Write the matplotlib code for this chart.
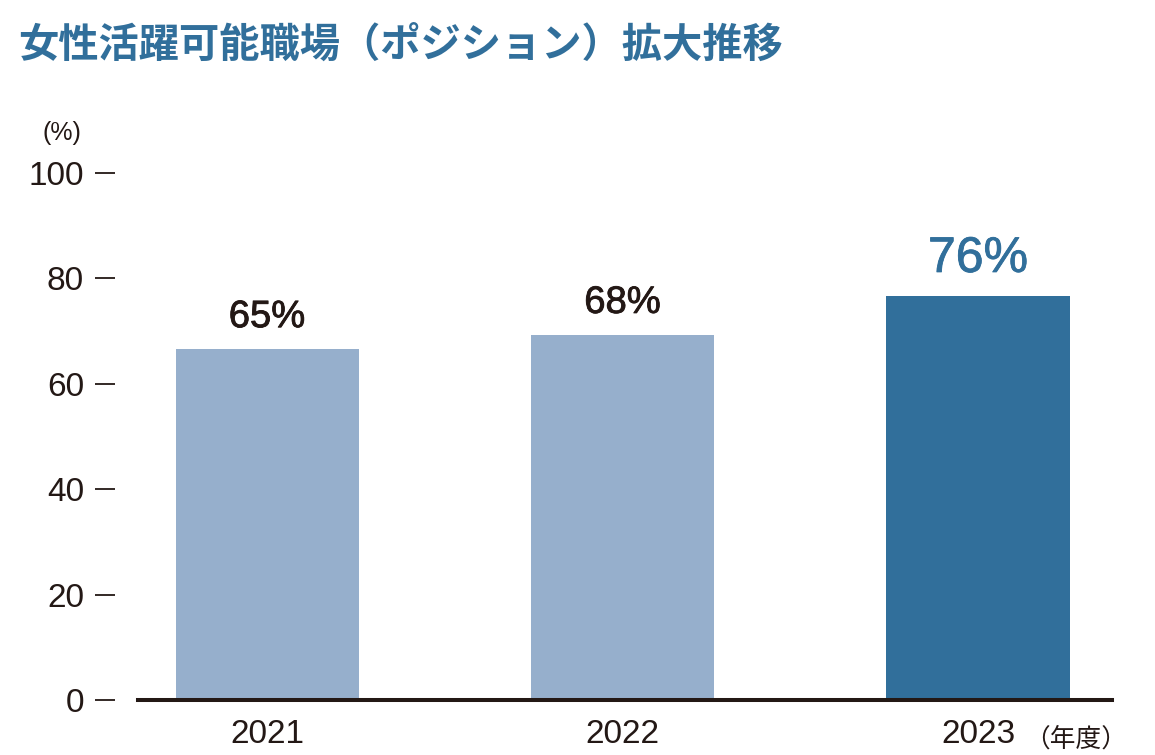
import numpy as np
import matplotlib
matplotlib.use('Agg')
import matplotlib.pyplot as plt
import matplotlib.patheffects as pe

plt.rcParams['font.family'] = ['Liberation Sans', 'Noto Sans CJK JP']

# data
years = ['2021', '2022', '2023']
bar_heights = [66.6, 69.3, 76.7]  # bar tops as drawn in the picture
value_labels = ['65%', '68%', '76%']
y_ticks = [0, 20, 40, 60, 80, 100]

light = '#96afcc'
dark = '#316f9b'
ink = '#231815'

fig = plt.figure(figsize=(11.55, 7.55), dpi=100)
ax = fig.add_axes([0.1195, 0.0728, 0.8433, 0.698])

x = np.arange(len(years))
colors = [light, light, dark]
rects = ax.bar(x, bar_heights, width=0.515, color=colors, zorder=2)

ax.set_xlim(-0.363, 2.377)
ax.set_ylim(0, 100)

# value labels above the bars (regular face thickened a little -> medium look)
for i, rect in enumerate(rects):
    last = i == len(rects) - 1
    c = dark if last else ink
    ax.annotate(value_labels[i],
                xy=(rect.get_x() + rect.get_width() / 2, rect.get_height()),
                xytext=(0, 10), textcoords='offset points',
                ha='center', va='bottom',
                fontsize=36 if last else 27.5, color=c,
                path_effects=[pe.withStroke(linewidth=0.6, foreground=c)])

# axes styling
for s in ['top', 'right']:
    ax.spines[s].set_visible(False)
ax.spines['left'].set_visible(False)
ax.spines['left'].set_position(('outward', 16.5))
ax.spines['bottom'].set_linewidth(2.9)
ax.spines['bottom'].set_color(ink)
ax.spines['bottom'].set_zorder(3)

ax.set_yticks(y_ticks)
ax.set_yticklabels([str(v) for v in y_ticks])
ax.tick_params(axis='y', length=14.4, width=1.3, color=ink, pad=8,
               labelsize=24, labelcolor=ink)
ax.set_xticks(x)
ax.set_xticklabels(years)
ax.tick_params(axis='x', length=0, pad=14, labelsize=24, labelcolor=ink)

ax.text(1.016, -0.05, '（年度）', transform=ax.transAxes, ha='right', va='top',
        fontsize=18.5, color=ink, family=['Noto Sans CJK JP'])
fig.text(42 / 1155, 1 - 133 / 755, '(%)', ha='left', va='center',
         fontsize=18, color=ink)

fig.text(18 / 1155, 1 - 45 / 755, '女性活躍可能職場（ポジション）拡大推移',
         ha='left', va='center', fontsize=29, fontweight='bold', color=dark,
         family=['Noto Sans CJK JP'])

fig.savefig('out.png', dpi=100)
